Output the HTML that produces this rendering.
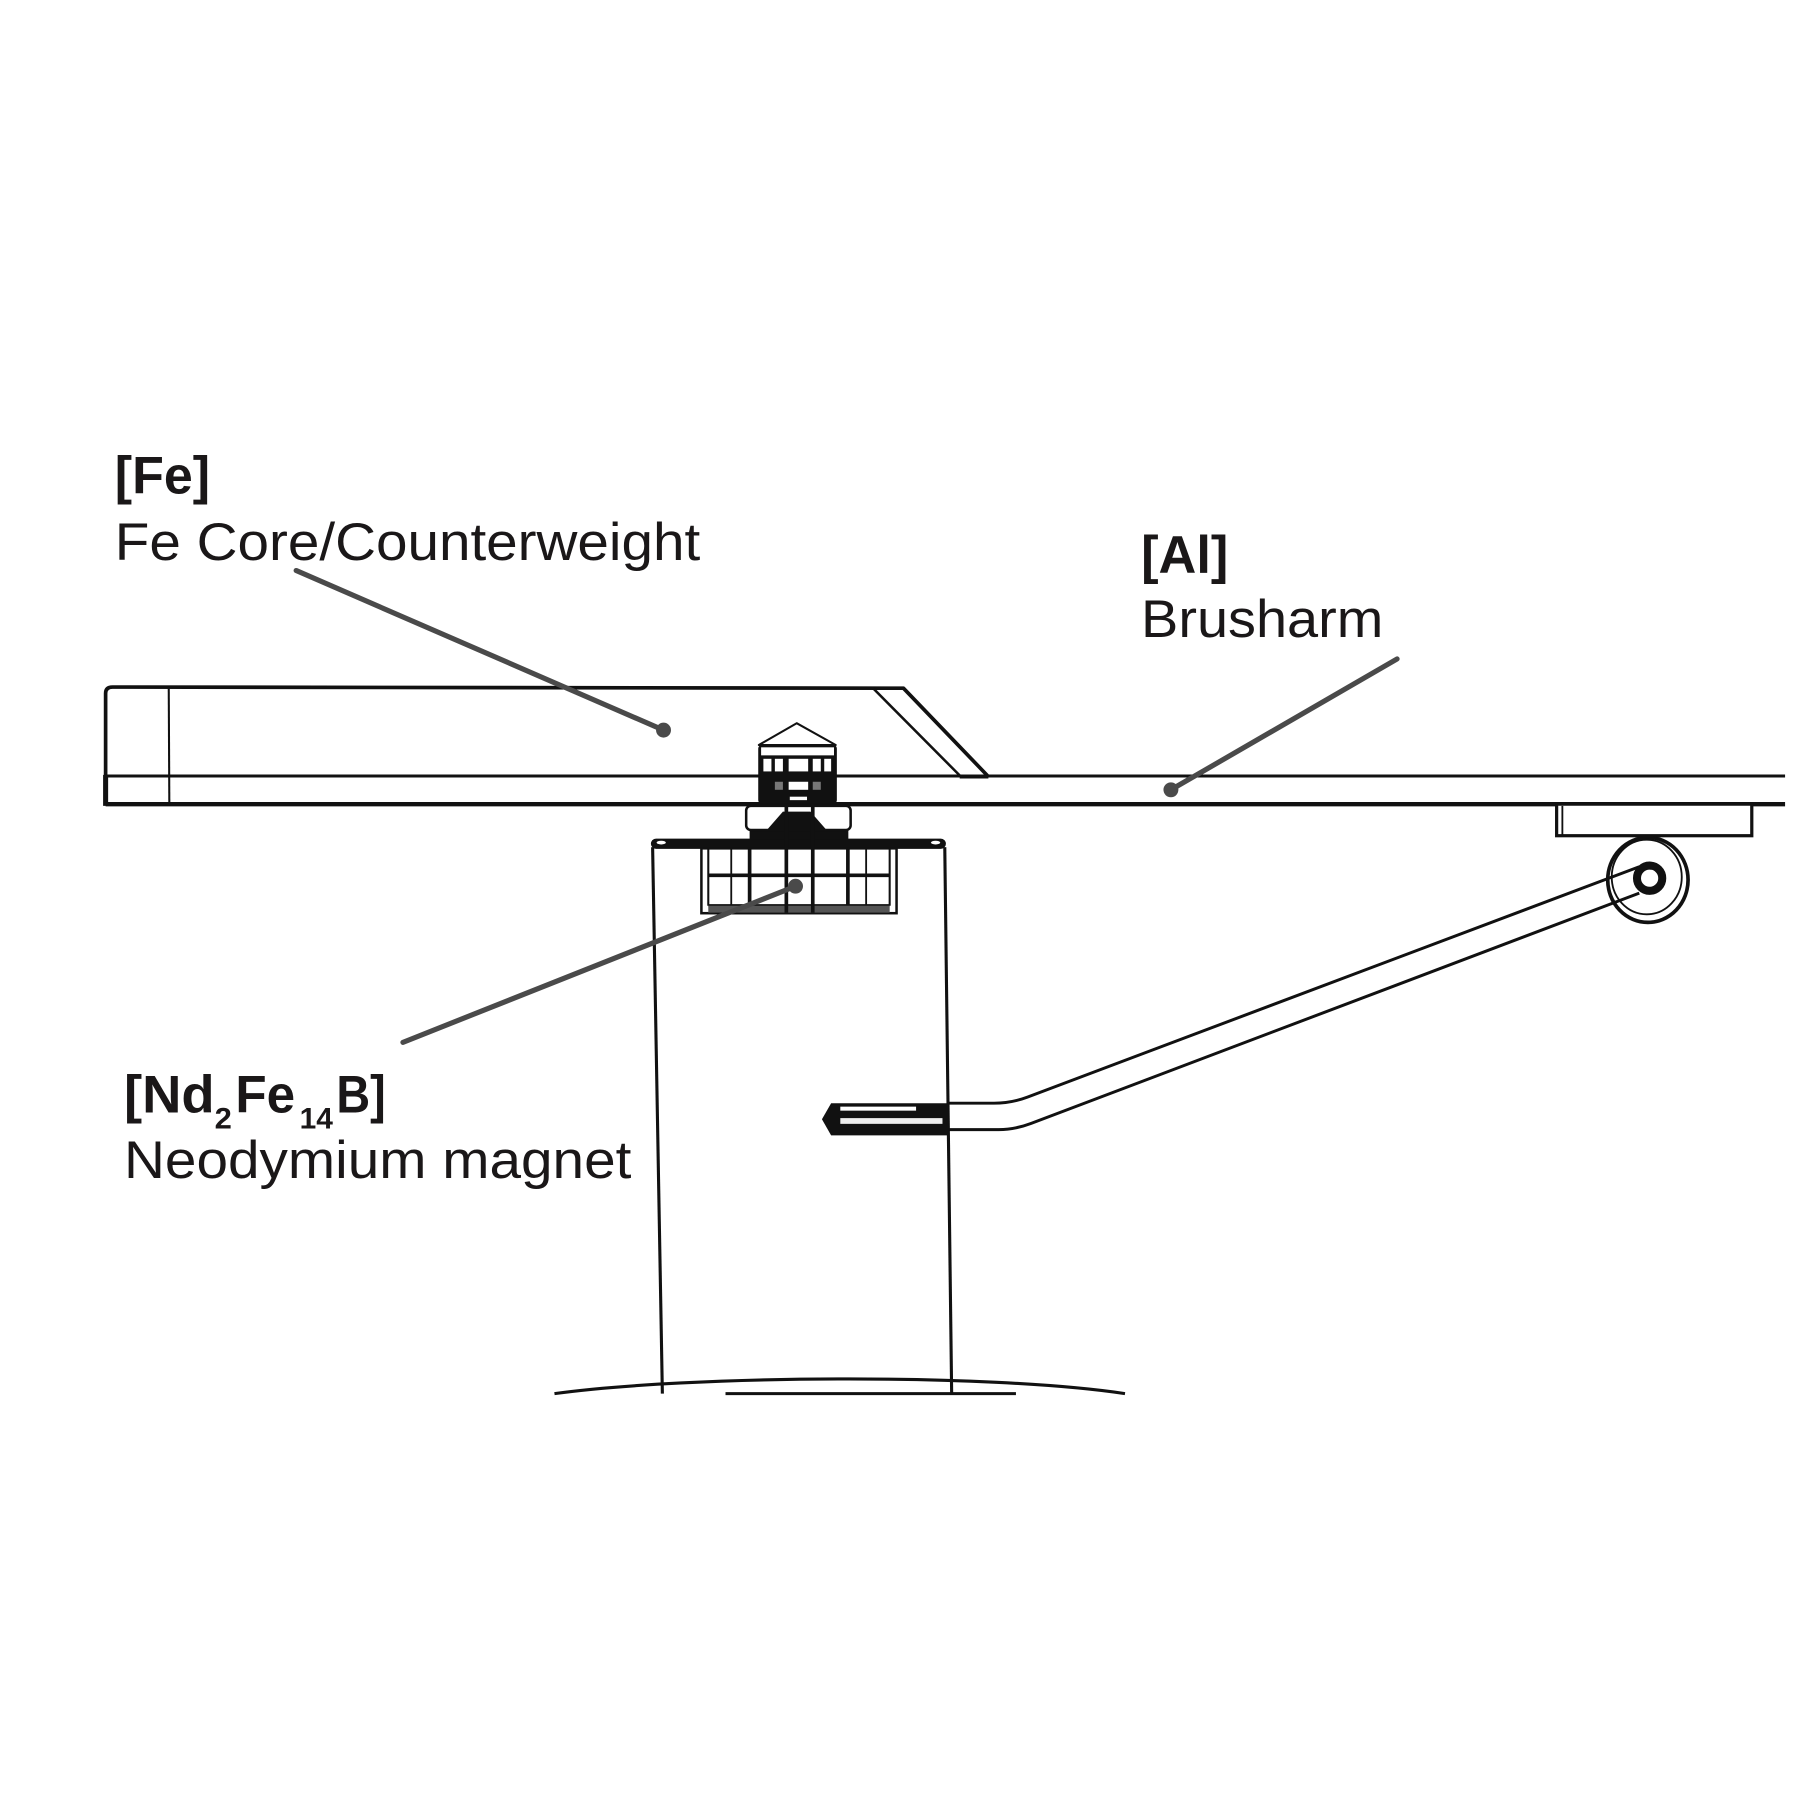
<!DOCTYPE html>
<html>
<head>
<meta charset="utf-8">
<style>
html,body{margin:0;padding:0;background:#fff;}
svg{display:block;}
</style>
</head>
<body>
<svg width="1800" height="1800" viewBox="0 0 1568 1568" xmlns="http://www.w3.org/2000/svg">
<rect width="1568" height="1568" fill="#fff"/>

<!-- ===== Counterweight / plate ===== -->
<g fill="none" stroke="#111" stroke-linejoin="round" stroke-linecap="butt">
  <path d="M92,701 L92,604 Q92,598.5 98,598.5 L787,599.5 L861,676.5" stroke-width="3.2"/>
  <line x1="92" y1="676" x2="1555" y2="676" stroke-width="2.6"/>
  <line x1="92" y1="700.5" x2="1555" y2="700.5" stroke-width="3.8"/>
  <line x1="92" y1="675" x2="92" y2="702" stroke-width="4.4"/>
  <line x1="147" y1="600" x2="147.5" y2="700" stroke-width="1.8"/>
  <line x1="761" y1="600" x2="836.5" y2="676" stroke-width="2.2"/>
  <line x1="836" y1="676.5" x2="861" y2="676.5" stroke-width="3.4"/>
</g>

<!-- ===== Right bracket + pivot ring ===== -->
<g fill="none" stroke="#111">
  <rect x="1356" y="700.5" width="170" height="27.5" stroke-width="2.8" fill="#fff"/>
  <line x1="1361" y1="702" x2="1361" y2="727" stroke-width="1.6"/>
  <line x1="1435" y1="728" x2="1435" y2="731" stroke-width="3"/>
</g>

<!-- arm lines -->
<g fill="none" stroke="#111" stroke-width="2.6" stroke-linejoin="round">
  <path d="M826,961 L866,961 Q881,961 895,955.7 L1428,755"/>
  <path d="M826,984 L870,984 Q884,984 898,978.7 L1428,778"/>
</g>

<g fill="none" stroke="#111">
  <ellipse cx="1435.5" cy="766.5" rx="35" ry="37" stroke-width="3.2"/>
  <ellipse cx="1434.5" cy="764" rx="30.5" ry="32.5" stroke-width="1.6"/>
  <circle cx="1437" cy="765" r="11" stroke-width="7" fill="#fff"/>
</g>

<!-- ===== Cylinder / post ===== -->
<g fill="none" stroke="#111" stroke-width="2.7">
  <line x1="568.5" y1="738" x2="577" y2="1214"/>
  <line x1="823" y1="738" x2="829" y2="1214"/>
  <path d="M483,1214 C600,1198 860,1196 980,1214"/>
  <line x1="632" y1="1214" x2="885" y2="1214"/>
</g>
<rect x="567" y="730.5" width="257" height="9" rx="4.5" fill="#111"/>
<ellipse cx="576" cy="734" rx="4" ry="1.6" fill="#fff"/>
<ellipse cx="815" cy="734" rx="4" ry="1.6" fill="#fff"/>

<!-- magnet cage -->
<g fill="none" stroke="#111">
  <rect x="611" y="739" width="170" height="56.5" stroke-width="2.2" fill="#fff"/>
  <line x1="617" y1="739" x2="617" y2="789" stroke-width="1.8"/>
  <line x1="775" y1="739" x2="775" y2="789" stroke-width="1.8"/>
  <line x1="617" y1="788.5" x2="775" y2="788.5" stroke-width="1.8"/>
  <line x1="637" y1="739" x2="637" y2="789" stroke-width="1.6"/>
  <line x1="754.5" y1="739" x2="754.5" y2="789" stroke-width="1.6"/>
  <line x1="653" y1="739" x2="653" y2="795" stroke-width="3.2"/>
  <line x1="738.6" y1="739" x2="738.6" y2="795" stroke-width="3.2"/>
  <line x1="617" y1="762.5" x2="775" y2="762.5" stroke-width="3.2"/>
</g>
<rect x="617" y="789" width="158" height="6" fill="#555"/>

<!-- washer & bell -->
<rect x="653" y="722" width="86" height="9" fill="#111"/>
<rect x="650" y="702" width="91" height="21" rx="4" fill="#fff" stroke="#111" stroke-width="2.2"/>
<polygon points="668,723 682,707 706,707 720,723" fill="#111"/>

<!-- shaft -->
<g stroke="#111" stroke-width="3.2">
  <line x1="685" y1="700" x2="685" y2="795"/>
  <line x1="708" y1="700" x2="708" y2="795"/>
</g>

<!-- pin cap -->
<polygon points="661,649 694,630 728,649" fill="#fff" stroke="#111" stroke-width="1.8" stroke-linejoin="round"/>
<rect x="660.5" y="649" width="68.5" height="51" rx="3" fill="#111"/>
<rect x="663" y="651" width="63.5" height="7" fill="#fff"/>
<g fill="#fff">
  <rect x="665" y="661" width="7" height="11"/>
  <rect x="675" y="661" width="7" height="11"/>
  <rect x="687" y="661" width="17" height="11"/>
  <rect x="708" y="661" width="7" height="11"/>
  <rect x="718" y="661" width="6" height="11"/>
  <rect x="687" y="681" width="17" height="7"/>
  <rect x="688" y="694" width="15" height="3"/>
</g>
<g fill="#777">
  <rect x="675" y="681" width="7" height="7"/>
  <rect x="708" y="681" width="7" height="7"/>
</g>

<!-- handle (left stub) -->
<path d="M826,961 L724,961 L716,975 L724,989 L826,989 Z" fill="#111"/>
<rect x="732" y="964" width="66" height="3.5" fill="#fff"/>
<rect x="732" y="974" width="89" height="5" fill="#eee"/>

<!-- ===== Leader lines ===== -->
<g stroke="#4a4a4a" stroke-width="4.5" stroke-linecap="round" fill="none">
  <line x1="258" y1="497" x2="578" y2="636"/>
  <line x1="1217" y1="574" x2="1020" y2="688"/>
  <line x1="351" y1="908" x2="693" y2="772"/>
</g>
<g fill="#4a4a4a">
  <circle cx="578" cy="636" r="6.5"/>
  <circle cx="1020" cy="688" r="6.5"/>
  <circle cx="693" cy="772" r="6.5"/>
</g>

<!-- ===== Labels ===== -->
<g fill="#1a1718" font-family="'Liberation Sans', Arial, sans-serif">
  <text x="100" y="430" font-size="46" font-weight="bold" textLength="83" lengthAdjust="spacingAndGlyphs">[Fe]</text>
  <text x="100" y="488" font-size="46" textLength="510" lengthAdjust="spacingAndGlyphs">Fe Core/Counterweight</text>

  <text x="994" y="499" font-size="46" font-weight="bold" textLength="76" lengthAdjust="spacingAndGlyphs">[Al]</text>
  <text x="994" y="555" font-size="46" textLength="211" lengthAdjust="spacingAndGlyphs">Brusharm</text>

  <text x="108" y="969" font-size="46" font-weight="bold" textLength="79" lengthAdjust="spacingAndGlyphs">[Nd</text>
  <text x="187" y="983" font-size="26" font-weight="600" textLength="15" lengthAdjust="spacingAndGlyphs">2</text>
  <text x="205" y="969" font-size="46" font-weight="bold" textLength="52" lengthAdjust="spacingAndGlyphs">Fe</text>
  <text x="261" y="983" font-size="26" font-weight="600" textLength="29" lengthAdjust="spacingAndGlyphs">14</text>
  <text x="293" y="969" font-size="46" font-weight="bold" textLength="43" lengthAdjust="spacingAndGlyphs">B]</text>

  <text x="108" y="1026" font-size="46" textLength="442" lengthAdjust="spacingAndGlyphs">Neodymium magnet</text>
</g>
</svg>
</body>
</html>
